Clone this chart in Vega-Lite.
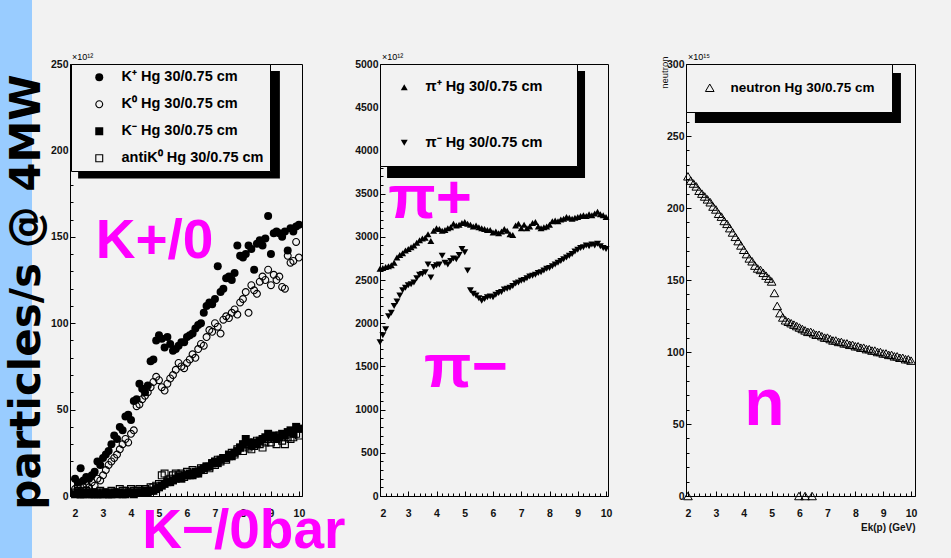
{
"$schema": "https://vega.github.io/schema/vega-lite/v6.json",
"background": "#f2f2f2",
"padding": {"left": 0, "top": 0, "right": 36, "bottom": 0},
"spacing": 0,
"resolve": {"scale": {"shape": "independent"}, "legend": {"shape": "independent"}},
"config": {
  "view": {"stroke": "black", "strokeWidth": 1},
  "axis": {"labelFont": "Liberation Sans", "labelFontWeight": "bold", "labelFontSize": 10.5, "labelColor": "#111111", "domainColor": "black", "domainWidth": 1, "tickColor": "black", "tickWidth": 1, "grid": false, "titleFont": "Liberation Sans", "titleFontWeight": "bold", "titleFontSize": 10, "titleColor": "#111111"}
},
"datasets": {
  "kaons": [
{"x":2.0,"y":10,"s":"Kp"},{"x":2.1,"y":8,"s":"Kp"},{"x":2.2,"y":16,"s":"Kp"},{"x":2.3,"y":9,"s":"Kp"},{"x":2.4,"y":11,"s":"Kp"},{"x":2.5,"y":10,"s":"Kp"},{"x":2.6,"y":12,"s":"Kp"},{"x":2.7,"y":14,"s":"Kp"},{"x":2.8,"y":20,"s":"Kp"},{"x":2.9,"y":18,"s":"Kp"},
{"x":3.0,"y":22,"s":"Kp"},{"x":3.1,"y":24,"s":"Kp"},{"x":3.2,"y":26,"s":"Kp"},{"x":3.3,"y":30,"s":"Kp"},{"x":3.4,"y":35,"s":"Kp"},{"x":3.5,"y":33,"s":"Kp"},{"x":3.6,"y":40,"s":"Kp"},{"x":3.7,"y":38,"s":"Kp"},{"x":3.8,"y":46,"s":"Kp"},{"x":3.9,"y":47,"s":"Kp"},
{"x":4.0,"y":44,"s":"Kp"},{"x":4.1,"y":55,"s":"Kp"},{"x":4.2,"y":56,"s":"Kp"},{"x":4.3,"y":65,"s":"Kp"},{"x":4.4,"y":62,"s":"Kp"},{"x":4.5,"y":60,"s":"Kp"},{"x":4.6,"y":64,"s":"Kp"},{"x":4.7,"y":78,"s":"Kp"},{"x":4.8,"y":79,"s":"Kp"},{"x":4.9,"y":90,"s":"Kp"},
{"x":5.0,"y":93,"s":"Kp"},{"x":5.1,"y":91,"s":"Kp"},{"x":5.2,"y":86,"s":"Kp"},{"x":5.3,"y":92,"s":"Kp"},{"x":5.4,"y":88,"s":"Kp"},{"x":5.5,"y":84,"s":"Kp"},{"x":5.6,"y":85,"s":"Kp"},{"x":5.7,"y":87,"s":"Kp"},{"x":5.8,"y":89,"s":"Kp"},{"x":5.9,"y":89,"s":"Kp"},
{"x":6.0,"y":92,"s":"Kp"},{"x":6.1,"y":93,"s":"Kp"},{"x":6.2,"y":94,"s":"Kp"},{"x":6.3,"y":97,"s":"Kp"},{"x":6.4,"y":99,"s":"Kp"},{"x":6.5,"y":100,"s":"Kp"},{"x":6.6,"y":106,"s":"Kp"},{"x":6.7,"y":110,"s":"Kp"},{"x":6.8,"y":112,"s":"Kp"},{"x":6.9,"y":111,"s":"Kp"},
{"x":7.0,"y":114,"s":"Kp"},{"x":7.1,"y":133,"s":"Kp"},{"x":7.2,"y":118,"s":"Kp"},{"x":7.3,"y":120,"s":"Kp"},{"x":7.4,"y":126,"s":"Kp"},{"x":7.5,"y":127,"s":"Kp"},{"x":7.6,"y":125,"s":"Kp"},{"x":7.7,"y":129,"s":"Kp"},{"x":7.8,"y":145,"s":"Kp"},{"x":7.9,"y":139,"s":"Kp"},
{"x":8.0,"y":138,"s":"Kp"},{"x":8.1,"y":140,"s":"Kp"},{"x":8.2,"y":145,"s":"Kp"},{"x":8.3,"y":143,"s":"Kp"},{"x":8.4,"y":131,"s":"Kp"},{"x":8.5,"y":146,"s":"Kp"},{"x":8.6,"y":148,"s":"Kp"},{"x":8.7,"y":145,"s":"Kp"},{"x":8.8,"y":149,"s":"Kp"},{"x":8.9,"y":162,"s":"Kp"},
{"x":9.0,"y":140,"s":"Kp"},{"x":9.1,"y":152,"s":"Kp"},{"x":9.2,"y":153,"s":"Kp"},{"x":9.3,"y":152,"s":"Kp"},{"x":9.4,"y":150,"s":"Kp"},{"x":9.5,"y":153,"s":"Kp"},{"x":9.6,"y":142,"s":"Kp"},{"x":9.7,"y":155,"s":"Kp"},{"x":9.8,"y":153,"s":"Kp"},{"x":9.9,"y":156,"s":"Kp"},{"x":10.0,"y":157,"s":"Kp"},
{"x":2.0,"y":4,"s":"K0"},{"x":2.1,"y":6,"s":"K0"},{"x":2.2,"y":3,"s":"K0"},{"x":2.3,"y":5,"s":"K0"},{"x":2.4,"y":7,"s":"K0"},{"x":2.5,"y":5,"s":"K0"},{"x":2.6,"y":8,"s":"K0"},{"x":2.7,"y":6,"s":"K0"},{"x":2.8,"y":10,"s":"K0"},{"x":2.9,"y":9,"s":"K0"},
{"x":3.0,"y":12,"s":"K0"},{"x":3.1,"y":15,"s":"K0"},{"x":3.2,"y":18,"s":"K0"},{"x":3.3,"y":20,"s":"K0"},{"x":3.4,"y":22,"s":"K0"},{"x":3.5,"y":24,"s":"K0"},{"x":3.6,"y":27,"s":"K0"},{"x":3.7,"y":30,"s":"K0"},{"x":3.8,"y":33,"s":"K0"},{"x":3.9,"y":31,"s":"K0"},
{"x":4.0,"y":36,"s":"K0"},{"x":4.1,"y":38,"s":"K0"},{"x":4.2,"y":52,"s":"K0"},{"x":4.3,"y":53,"s":"K0"},{"x":4.4,"y":56,"s":"K0"},{"x":4.5,"y":58,"s":"K0"},{"x":4.6,"y":60,"s":"K0"},{"x":4.7,"y":63,"s":"K0"},{"x":4.8,"y":66,"s":"K0"},{"x":4.9,"y":69,"s":"K0"},
{"x":5.0,"y":67,"s":"K0"},{"x":5.1,"y":63,"s":"K0"},{"x":5.2,"y":61,"s":"K0"},{"x":5.3,"y":65,"s":"K0"},{"x":5.4,"y":68,"s":"K0"},{"x":5.5,"y":70,"s":"K0"},{"x":5.6,"y":73,"s":"K0"},{"x":5.7,"y":77,"s":"K0"},{"x":5.8,"y":75,"s":"K0"},{"x":5.9,"y":74,"s":"K0"},
{"x":6.0,"y":77,"s":"K0"},{"x":6.1,"y":79,"s":"K0"},{"x":6.2,"y":82,"s":"K0"},{"x":6.3,"y":80,"s":"K0"},{"x":6.4,"y":85,"s":"K0"},{"x":6.5,"y":88,"s":"K0"},{"x":6.6,"y":87,"s":"K0"},{"x":6.7,"y":92,"s":"K0"},{"x":6.8,"y":96,"s":"K0"},{"x":6.9,"y":95,"s":"K0"},
{"x":7.0,"y":100,"s":"K0"},{"x":7.1,"y":98,"s":"K0"},{"x":7.2,"y":94,"s":"K0"},{"x":7.3,"y":102,"s":"K0"},{"x":7.4,"y":104,"s":"K0"},{"x":7.5,"y":103,"s":"K0"},{"x":7.6,"y":106,"s":"K0"},{"x":7.7,"y":108,"s":"K0"},{"x":7.8,"y":105,"s":"K0"},{"x":7.9,"y":112,"s":"K0"},
{"x":8.0,"y":114,"s":"K0"},{"x":8.1,"y":118,"s":"K0"},{"x":8.2,"y":106,"s":"K0"},{"x":8.3,"y":122,"s":"K0"},{"x":8.4,"y":119,"s":"K0"},{"x":8.5,"y":117,"s":"K0"},{"x":8.6,"y":124,"s":"K0"},{"x":8.7,"y":127,"s":"K0"},{"x":8.8,"y":125,"s":"K0"},{"x":8.9,"y":131,"s":"K0"},
{"x":9.0,"y":122,"s":"K0"},{"x":9.1,"y":128,"s":"K0"},{"x":9.2,"y":125,"s":"K0"},{"x":9.3,"y":127,"s":"K0"},{"x":9.4,"y":121,"s":"K0"},{"x":9.5,"y":120,"s":"K0"},{"x":9.6,"y":139,"s":"K0"},{"x":9.7,"y":135,"s":"K0"},{"x":9.8,"y":136,"s":"K0"},{"x":9.9,"y":147,"s":"K0"},{"x":10.0,"y":138,"s":"K0"},
{"x":2.0,"y":1,"s":"Km"},{"x":2.1,"y":2,"s":"Km"},{"x":2.2,"y":1,"s":"Km"},{"x":2.3,"y":1,"s":"Km"},{"x":2.4,"y":2,"s":"Km"},{"x":2.5,"y":1,"s":"Km"},{"x":2.6,"y":1,"s":"Km"},{"x":2.7,"y":2,"s":"Km"},{"x":2.8,"y":1,"s":"Km"},{"x":2.9,"y":1,"s":"Km"},
{"x":3.0,"y":1,"s":"Km"},{"x":3.1,"y":2,"s":"Km"},{"x":3.2,"y":1,"s":"Km"},{"x":3.3,"y":1,"s":"Km"},{"x":3.4,"y":2,"s":"Km"},{"x":3.5,"y":1,"s":"Km"},{"x":3.6,"y":2,"s":"Km"},{"x":3.7,"y":1,"s":"Km"},{"x":3.8,"y":1,"s":"Km"},{"x":3.9,"y":2,"s":"Km"},
{"x":4.0,"y":2,"s":"Km"},{"x":4.1,"y":1,"s":"Km"},{"x":4.2,"y":2,"s":"Km"},{"x":4.3,"y":2,"s":"Km"},{"x":4.4,"y":2,"s":"Km"},{"x":4.5,"y":3,"s":"Km"},{"x":4.6,"y":2,"s":"Km"},{"x":4.7,"y":3,"s":"Km"},{"x":4.8,"y":3,"s":"Km"},{"x":4.9,"y":4,"s":"Km"},
{"x":5.0,"y":5,"s":"Km"},{"x":5.1,"y":6,"s":"Km"},{"x":5.2,"y":7,"s":"Km"},{"x":5.3,"y":8,"s":"Km"},{"x":5.4,"y":8,"s":"Km"},{"x":5.5,"y":9,"s":"Km"},{"x":5.6,"y":10,"s":"Km"},{"x":5.7,"y":11,"s":"Km"},{"x":5.8,"y":10,"s":"Km"},{"x":5.9,"y":12,"s":"Km"},
{"x":6.0,"y":12,"s":"Km"},{"x":6.1,"y":13,"s":"Km"},{"x":6.2,"y":12,"s":"Km"},{"x":6.3,"y":14,"s":"Km"},{"x":6.4,"y":13,"s":"Km"},{"x":6.5,"y":15,"s":"Km"},{"x":6.6,"y":16,"s":"Km"},{"x":6.7,"y":17,"s":"Km"},{"x":6.8,"y":17,"s":"Km"},{"x":6.9,"y":19,"s":"Km"},
{"x":7.0,"y":20,"s":"Km"},{"x":7.1,"y":19,"s":"Km"},{"x":7.2,"y":21,"s":"Km"},{"x":7.3,"y":22,"s":"Km"},{"x":7.4,"y":22,"s":"Km"},{"x":7.5,"y":24,"s":"Km"},{"x":7.6,"y":23,"s":"Km"},{"x":7.7,"y":25,"s":"Km"},{"x":7.8,"y":26,"s":"Km"},{"x":7.9,"y":28,"s":"Km"},
{"x":8.0,"y":30,"s":"Km"},{"x":8.1,"y":33,"s":"Km"},{"x":8.2,"y":31,"s":"Km"},{"x":8.3,"y":29,"s":"Km"},{"x":8.4,"y":31,"s":"Km"},{"x":8.5,"y":30,"s":"Km"},{"x":8.6,"y":32,"s":"Km"},{"x":8.7,"y":33,"s":"Km"},{"x":8.8,"y":34,"s":"Km"},{"x":8.9,"y":36,"s":"Km"},
{"x":9.0,"y":34,"s":"Km"},{"x":9.1,"y":35,"s":"Km"},{"x":9.2,"y":33,"s":"Km"},{"x":9.3,"y":34,"s":"Km"},{"x":9.4,"y":36,"s":"Km"},{"x":9.5,"y":35,"s":"Km"},{"x":9.6,"y":37,"s":"Km"},{"x":9.7,"y":38,"s":"Km"},{"x":9.8,"y":36,"s":"Km"},{"x":9.9,"y":40,"s":"Km"},{"x":10.0,"y":39,"s":"Km"},
{"x":2.0,"y":2,"s":"aK0"},{"x":2.1,"y":3,"s":"aK0"},{"x":2.2,"y":1,"s":"aK0"},{"x":2.3,"y":2,"s":"aK0"},{"x":2.4,"y":3,"s":"aK0"},{"x":2.5,"y":2,"s":"aK0"},{"x":2.6,"y":2,"s":"aK0"},{"x":2.7,"y":1,"s":"aK0"},{"x":2.8,"y":2,"s":"aK0"},{"x":2.9,"y":3,"s":"aK0"},
{"x":3.0,"y":2,"s":"aK0"},{"x":3.1,"y":2,"s":"aK0"},{"x":3.2,"y":1,"s":"aK0"},{"x":3.3,"y":3,"s":"aK0"},{"x":3.4,"y":2,"s":"aK0"},{"x":3.5,"y":2,"s":"aK0"},{"x":3.6,"y":4,"s":"aK0"},{"x":3.7,"y":3,"s":"aK0"},{"x":3.8,"y":3,"s":"aK0"},{"x":3.9,"y":2,"s":"aK0"},
{"x":4.0,"y":4,"s":"aK0"},{"x":4.1,"y":3,"s":"aK0"},{"x":4.2,"y":3,"s":"aK0"},{"x":4.3,"y":4,"s":"aK0"},{"x":4.4,"y":3,"s":"aK0"},{"x":4.5,"y":4,"s":"aK0"},{"x":4.6,"y":3,"s":"aK0"},{"x":4.7,"y":5,"s":"aK0"},{"x":4.8,"y":5,"s":"aK0"},{"x":4.9,"y":6,"s":"aK0"},
{"x":5.0,"y":7,"s":"aK0"},{"x":5.1,"y":12,"s":"aK0"},{"x":5.2,"y":13,"s":"aK0"},{"x":5.3,"y":9,"s":"aK0"},{"x":5.4,"y":10,"s":"aK0"},{"x":5.5,"y":12,"s":"aK0"},{"x":5.6,"y":13,"s":"aK0"},{"x":5.7,"y":12,"s":"aK0"},{"x":5.8,"y":13,"s":"aK0"},{"x":5.9,"y":11,"s":"aK0"},
{"x":6.0,"y":14,"s":"aK0"},{"x":6.1,"y":12,"s":"aK0"},{"x":6.2,"y":15,"s":"aK0"},{"x":6.3,"y":13,"s":"aK0"},{"x":6.4,"y":14,"s":"aK0"},{"x":6.5,"y":16,"s":"aK0"},{"x":6.6,"y":15,"s":"aK0"},{"x":6.7,"y":17,"s":"aK0"},{"x":6.8,"y":16,"s":"aK0"},{"x":6.9,"y":19,"s":"aK0"},
{"x":7.0,"y":18,"s":"aK0"},{"x":7.1,"y":21,"s":"aK0"},{"x":7.2,"y":20,"s":"aK0"},{"x":7.3,"y":22,"s":"aK0"},{"x":7.4,"y":21,"s":"aK0"},{"x":7.5,"y":23,"s":"aK0"},{"x":7.6,"y":25,"s":"aK0"},{"x":7.7,"y":24,"s":"aK0"},{"x":7.8,"y":27,"s":"aK0"},{"x":7.9,"y":28,"s":"aK0"},
{"x":8.0,"y":26,"s":"aK0"},{"x":8.1,"y":30,"s":"aK0"},{"x":8.2,"y":28,"s":"aK0"},{"x":8.3,"y":27,"s":"aK0"},{"x":8.4,"y":29,"s":"aK0"},{"x":8.5,"y":32,"s":"aK0"},{"x":8.6,"y":30,"s":"aK0"},{"x":8.7,"y":28,"s":"aK0"},{"x":8.8,"y":31,"s":"aK0"},{"x":8.9,"y":33,"s":"aK0"},
{"x":9.0,"y":31,"s":"aK0"},{"x":9.1,"y":33,"s":"aK0"},{"x":9.2,"y":30,"s":"aK0"},{"x":9.3,"y":35,"s":"aK0"},{"x":9.4,"y":32,"s":"aK0"},{"x":9.5,"y":30,"s":"aK0"},{"x":9.6,"y":34,"s":"aK0"},{"x":9.7,"y":33,"s":"aK0"},{"x":9.8,"y":34,"s":"aK0"},{"x":9.9,"y":36,"s":"aK0"},{"x":10.0,"y":35,"s":"aK0"}
  ],
  "pions": [
{"x":2.0,"y":2630,"s":"pp"},{"x":2.1,"y":2640,"s":"pp"},{"x":2.2,"y":2650,"s":"pp"},{"x":2.3,"y":2660,"s":"pp"},{"x":2.4,"y":2670,"s":"pp"},{"x":2.5,"y":2700,"s":"pp"},{"x":2.6,"y":2760,"s":"pp"},{"x":2.7,"y":2790,"s":"pp"},{"x":2.8,"y":2810,"s":"pp"},{"x":2.9,"y":2840,"s":"pp"},
{"x":3.0,"y":2860,"s":"pp"},{"x":3.1,"y":2880,"s":"pp"},{"x":3.2,"y":2900,"s":"pp"},{"x":3.3,"y":2930,"s":"pp"},{"x":3.4,"y":2960,"s":"pp"},{"x":3.5,"y":2980,"s":"pp"},{"x":3.6,"y":2990,"s":"pp"},{"x":3.7,"y":3030,"s":"pp"},{"x":3.8,"y":2950,"s":"pp"},{"x":3.9,"y":3070,"s":"pp"},
{"x":4.0,"y":3100,"s":"pp"},{"x":4.1,"y":3090,"s":"pp"},{"x":4.2,"y":3070,"s":"pp"},{"x":4.3,"y":3080,"s":"pp"},{"x":4.4,"y":3100,"s":"pp"},{"x":4.5,"y":3110,"s":"pp"},{"x":4.6,"y":3150,"s":"pp"},{"x":4.7,"y":3130,"s":"pp"},{"x":4.8,"y":3140,"s":"pp"},{"x":4.9,"y":3160,"s":"pp"},
{"x":5.0,"y":3170,"s":"pp"},{"x":5.1,"y":3150,"s":"pp"},{"x":5.2,"y":3140,"s":"pp"},{"x":5.3,"y":3120,"s":"pp"},{"x":5.4,"y":3130,"s":"pp"},{"x":5.5,"y":3110,"s":"pp"},{"x":5.6,"y":3100,"s":"pp"},{"x":5.7,"y":3090,"s":"pp"},{"x":5.8,"y":3080,"s":"pp"},{"x":5.9,"y":3080,"s":"pp"},
{"x":6.0,"y":3050,"s":"pp"},{"x":6.1,"y":3060,"s":"pp"},{"x":6.2,"y":3040,"s":"pp"},{"x":6.3,"y":3060,"s":"pp"},{"x":6.4,"y":3090,"s":"pp"},{"x":6.5,"y":3070,"s":"pp"},{"x":6.6,"y":3030,"s":"pp"},{"x":6.7,"y":3020,"s":"pp"},{"x":6.8,"y":3130,"s":"pp"},{"x":6.9,"y":3150,"s":"pp"},
{"x":7.0,"y":3100,"s":"pp"},{"x":7.1,"y":3140,"s":"pp"},{"x":7.2,"y":3100,"s":"pp"},{"x":7.3,"y":3120,"s":"pp"},{"x":7.4,"y":3160,"s":"pp"},{"x":7.5,"y":3170,"s":"pp"},{"x":7.6,"y":3120,"s":"pp"},{"x":7.7,"y":3100,"s":"pp"},{"x":7.8,"y":3110,"s":"pp"},{"x":7.9,"y":3120,"s":"pp"},
{"x":8.0,"y":3140,"s":"pp"},{"x":8.1,"y":3180,"s":"pp"},{"x":8.2,"y":3190,"s":"pp"},{"x":8.3,"y":3180,"s":"pp"},{"x":8.4,"y":3200,"s":"pp"},{"x":8.5,"y":3210,"s":"pp"},{"x":8.6,"y":3230,"s":"pp"},{"x":8.7,"y":3220,"s":"pp"},{"x":8.8,"y":3210,"s":"pp"},{"x":8.9,"y":3220,"s":"pp"},
{"x":9.0,"y":3230,"s":"pp"},{"x":9.1,"y":3240,"s":"pp"},{"x":9.2,"y":3250,"s":"pp"},{"x":9.3,"y":3240,"s":"pp"},{"x":9.4,"y":3260,"s":"pp"},{"x":9.5,"y":3250,"s":"pp"},{"x":9.6,"y":3270,"s":"pp"},{"x":9.7,"y":3290,"s":"pp"},{"x":9.8,"y":3260,"s":"pp"},{"x":9.9,"y":3250,"s":"pp"},{"x":10.0,"y":3230,"s":"pp"},
{"x":2.0,"y":1780,"s":"pm"},{"x":2.1,"y":1860,"s":"pm"},{"x":2.2,"y":1930,"s":"pm"},{"x":2.3,"y":2080,"s":"pm"},{"x":2.4,"y":2120,"s":"pm"},{"x":2.5,"y":2200,"s":"pm"},{"x":2.6,"y":2250,"s":"pm"},{"x":2.7,"y":2320,"s":"pm"},{"x":2.8,"y":2380,"s":"pm"},{"x":2.9,"y":2410,"s":"pm"},
{"x":3.0,"y":2440,"s":"pm"},{"x":3.1,"y":2450,"s":"pm"},{"x":3.2,"y":2470,"s":"pm"},{"x":3.3,"y":2520,"s":"pm"},{"x":3.4,"y":2560,"s":"pm"},{"x":3.5,"y":2570,"s":"pm"},{"x":3.6,"y":2590,"s":"pm"},{"x":3.7,"y":2680,"s":"pm"},{"x":3.8,"y":2530,"s":"pm"},{"x":3.9,"y":2650,"s":"pm"},
{"x":4.0,"y":2670,"s":"pm"},{"x":4.1,"y":2680,"s":"pm"},{"x":4.2,"y":2780,"s":"pm"},{"x":4.3,"y":2700,"s":"pm"},{"x":4.4,"y":2680,"s":"pm"},{"x":4.5,"y":2720,"s":"pm"},{"x":4.6,"y":2750,"s":"pm"},{"x":4.7,"y":2740,"s":"pm"},{"x":4.8,"y":2790,"s":"pm"},{"x":4.9,"y":2860,"s":"pm"},
{"x":5.0,"y":2820,"s":"pm"},{"x":5.1,"y":2610,"s":"pm"},{"x":5.2,"y":2380,"s":"pm"},{"x":5.3,"y":2340,"s":"pm"},{"x":5.4,"y":2320,"s":"pm"},{"x":5.5,"y":2290,"s":"pm"},{"x":5.6,"y":2260,"s":"pm"},{"x":5.7,"y":2280,"s":"pm"},{"x":5.8,"y":2300,"s":"pm"},{"x":5.9,"y":2310,"s":"pm"},
{"x":6.0,"y":2300,"s":"pm"},{"x":6.1,"y":2330,"s":"pm"},{"x":6.2,"y":2350,"s":"pm"},{"x":6.3,"y":2360,"s":"pm"},{"x":6.4,"y":2390,"s":"pm"},{"x":6.5,"y":2400,"s":"pm"},{"x":6.6,"y":2410,"s":"pm"},{"x":6.7,"y":2430,"s":"pm"},{"x":6.8,"y":2460,"s":"pm"},{"x":6.9,"y":2470,"s":"pm"},
{"x":7.0,"y":2490,"s":"pm"},{"x":7.1,"y":2500,"s":"pm"},{"x":7.2,"y":2520,"s":"pm"},{"x":7.3,"y":2540,"s":"pm"},{"x":7.4,"y":2550,"s":"pm"},{"x":7.5,"y":2560,"s":"pm"},{"x":7.6,"y":2580,"s":"pm"},{"x":7.7,"y":2590,"s":"pm"},{"x":7.8,"y":2610,"s":"pm"},{"x":7.9,"y":2630,"s":"pm"},
{"x":8.0,"y":2640,"s":"pm"},{"x":8.1,"y":2660,"s":"pm"},{"x":8.2,"y":2680,"s":"pm"},{"x":8.3,"y":2700,"s":"pm"},{"x":8.4,"y":2720,"s":"pm"},{"x":8.5,"y":2740,"s":"pm"},{"x":8.6,"y":2760,"s":"pm"},{"x":8.7,"y":2780,"s":"pm"},{"x":8.8,"y":2800,"s":"pm"},{"x":8.9,"y":2830,"s":"pm"},
{"x":9.0,"y":2850,"s":"pm"},{"x":9.1,"y":2870,"s":"pm"},{"x":9.2,"y":2880,"s":"pm"},{"x":9.3,"y":2900,"s":"pm"},{"x":9.4,"y":2890,"s":"pm"},{"x":9.5,"y":2910,"s":"pm"},{"x":9.6,"y":2900,"s":"pm"},{"x":9.7,"y":2920,"s":"pm"},{"x":9.8,"y":2890,"s":"pm"},{"x":9.9,"y":2870,"s":"pm"},{"x":10.0,"y":2860,"s":"pm"}
  ],
  "neutrons": [
{"x":2.0,"y":0,"s":"n"},{"x":5.98,"y":0,"s":"n"},{"x":6.2,"y":0,"s":"n"},{"x":6.45,"y":0,"s":"n"},
{"x":2.0,"y":222,"s":"n"},{"x":2.1,"y":219,"s":"n"},{"x":2.2,"y":217,"s":"n"},{"x":2.3,"y":215,"s":"n"},{"x":2.4,"y":212,"s":"n"},{"x":2.5,"y":210,"s":"n"},{"x":2.6,"y":208,"s":"n"},{"x":2.7,"y":206,"s":"n"},{"x":2.8,"y":204,"s":"n"},{"x":2.9,"y":201,"s":"n"},
{"x":3.0,"y":199,"s":"n"},{"x":3.1,"y":196,"s":"n"},{"x":3.2,"y":194,"s":"n"},{"x":3.3,"y":191,"s":"n"},{"x":3.4,"y":189,"s":"n"},{"x":3.5,"y":186,"s":"n"},{"x":3.6,"y":183,"s":"n"},{"x":3.7,"y":180,"s":"n"},{"x":3.8,"y":177,"s":"n"},{"x":3.9,"y":174,"s":"n"},
{"x":4.0,"y":171,"s":"n"},{"x":4.1,"y":168,"s":"n"},{"x":4.2,"y":165,"s":"n"},{"x":4.3,"y":163,"s":"n"},{"x":4.4,"y":160,"s":"n"},{"x":4.5,"y":158,"s":"n"},{"x":4.6,"y":157,"s":"n"},{"x":4.7,"y":155,"s":"n"},{"x":4.8,"y":153,"s":"n"},{"x":4.9,"y":151,"s":"n"},
{"x":5.0,"y":149,"s":"n"},{"x":5.1,"y":141,"s":"n"},{"x":5.2,"y":132,"s":"n"},{"x":5.3,"y":127,"s":"n"},{"x":5.4,"y":124,"s":"n"},{"x":5.5,"y":122,"s":"n"},{"x":5.6,"y":121,"s":"n"},{"x":5.7,"y":120,"s":"n"},{"x":5.8,"y":119,"s":"n"},{"x":5.9,"y":118,"s":"n"},
{"x":6.0,"y":117,"s":"n"},{"x":6.1,"y":116,"s":"n"},{"x":6.2,"y":115,"s":"n"},{"x":6.3,"y":114,"s":"n"},{"x":6.4,"y":114,"s":"n"},{"x":6.5,"y":113,"s":"n"},{"x":6.6,"y":112,"s":"n"},{"x":6.7,"y":112,"s":"n"},{"x":6.8,"y":111,"s":"n"},{"x":6.9,"y":110,"s":"n"},
{"x":7.0,"y":110,"s":"n"},{"x":7.1,"y":109,"s":"n"},{"x":7.2,"y":108,"s":"n"},{"x":7.3,"y":108,"s":"n"},{"x":7.4,"y":107,"s":"n"},{"x":7.5,"y":107,"s":"n"},{"x":7.6,"y":106,"s":"n"},{"x":7.7,"y":106,"s":"n"},{"x":7.8,"y":105,"s":"n"},{"x":7.9,"y":105,"s":"n"},
{"x":8.0,"y":104,"s":"n"},{"x":8.1,"y":104,"s":"n"},{"x":8.2,"y":103,"s":"n"},{"x":8.3,"y":103,"s":"n"},{"x":8.4,"y":102,"s":"n"},{"x":8.5,"y":102,"s":"n"},{"x":8.6,"y":101,"s":"n"},{"x":8.7,"y":101,"s":"n"},{"x":8.8,"y":100,"s":"n"},{"x":8.9,"y":100,"s":"n"},
{"x":9.0,"y":99,"s":"n"},{"x":9.1,"y":99,"s":"n"},{"x":9.2,"y":98,"s":"n"},{"x":9.3,"y":98,"s":"n"},{"x":9.4,"y":97,"s":"n"},{"x":9.5,"y":97,"s":"n"},{"x":9.6,"y":96,"s":"n"},{"x":9.7,"y":96,"s":"n"},{"x":9.8,"y":95,"s":"n"},{"x":9.9,"y":95,"s":"n"},{"x":10.0,"y":94,"s":"n"}
  ]
},
"hconcat": [
  {
    "width": 32, "height": 558,
    "view": {"fill": "#99ccff", "stroke": null},
    "data": {"values": [{"t": "particles/s @ 4MW"}]},
    "mark": {"type": "text", "angle": 270, "font": "DejaVu Sans", "fontWeight": "bold", "fontSize": 42, "color": "black", "align": "center", "baseline": "alphabetic", "dx": -13, "dy": 24},
    "encoding": {"text": {"field": "t", "type": "nominal"}}
  },
  {
    "spacing": 0,
    "bounds": "flush",
    "resolve": {"scale": {"shape": "independent"}, "legend": {"shape": "independent"}},
    "vconcat": [
      {
        "width": 10, "height": 64,
        "view": {"fill": null, "stroke": null},
        "data": {"values": [{}]},
        "mark": {"type": "text"},
        "encoding": {"text": {"value": ""}}
      },
      {
        "spacing": 78,
        "bounds": "flush",
        "resolve": {"scale": {"shape": "independent"}, "legend": {"shape": "independent"}},
        "hconcat": [
          {
            "width": 232, "height": 432,
            "resolve": {"axis": {"x": "independent", "y": "independent"}},
            "layer": [
              {
                "data": {"values": [{}]},
                "mark": {"type": "rect", "color": "black"},
                "encoding": {
                  "x": {"datum": 2.11, "type": "quantitative", "axis": {"orient": "bottom", "values": [2.2,2.4,2.6,2.8,3.2,3.4,3.6,3.8,4.2,4.4,4.6,4.8,5.2,5.4,5.6,5.8,6.2,6.4,6.6,6.8,7.2,7.4,7.6,7.8,8.2,8.4,8.6,8.8,9.2,9.4,9.6,9.8], "labels": false, "domain": false, "tickSize": -3, "title": null}},
                  "x2": {"datum": 9.32},
                  "y": {"datum": 245.9, "type": "quantitative", "axis": {"orient": "left", "values": [10,20,30,40,60,70,80,90,110,120,130,140,160,170,180,190,210,220,230,240], "labels": false, "domain": false, "tickSize": -3, "title": null}},
                  "y2": {"datum": 183.8}
                }
              },
              {
                "data": {"name": "kaons"},
                "mark": {"type": "point", "size": 64, "filled": true, "color": "black", "opacity": 1},
                "encoding": {
                  "x": {"field": "x", "type": "quantitative", "scale": {"domain": [1.82, 10.11], "nice": false, "zero": false}, "axis": {"orient": "bottom", "values": [2,3,4,5,6,7,8,9,10], "format": "d", "title": null, "tickSize": -5, "labelPadding": 17}},
                  "y": {"field": "y", "type": "quantitative", "scale": {"domain": [0, 250], "nice": false}, "axis": {"orient": "left", "values": [0,50,100,150,200,250], "format": "d", "title": null, "tickSize": -5, "labelPadding": 7}},
                  "shape": {"field": "s", "type": "nominal", "scale": {"domain": ["Kp","K0","Km","aK0"], "range": ["circle", "M1,0A1,1,0,1,1,-1,0A1,1,0,1,1,1,0ZM0.72,0A0.72,0.72,0,1,0,-0.72,0A0.72,0.72,0,1,0,0.72,0Z", "square", "M-1,-1H1V1H-1ZM-0.72,-0.72V0.72H0.72V-0.72Z"]},
                    "legend": {"title": null, "orient": "none", "legendX": 1, "legendY": 0, "fillColor": "#f2f2f2", "strokeColor": "black", "padding": 6, "symbolOffset": 15, "labelOffset": 15, "rowPadding": 12, "symbolSize": 64, "symbolFillColor": "black", "symbolStrokeWidth": 0, "labelFont": "Liberation Sans", "labelFontWeight": "bold", "labelFontSize": 14.5, "labelColor": "black", "labelLimit": 400, "zindex": 1,
                      "labelExpr": "datum.label=='Kp'?'K⁺ Hg 30/0.75 cm':datum.label=='K0'?'K⁰ Hg 30/0.75 cm':datum.label=='Km'?'K⁻ Hg 30/0.75 cm':'antiK⁰ Hg 30/0.75 cm'"}}
                }
              },
              {
                "data": {"values": [{}]},
                "mark": {"type": "text", "font": "Liberation Sans", "fontSize": 9, "align": "left", "baseline": "alphabetic", "dx": 2, "dy": -4, "color": "black"},
                "encoding": {"x": {"datum": 1.82, "type": "quantitative", "axis": null}, "y": {"datum": 250, "type": "quantitative", "axis": null}, "text": {"value": "×10¹²"}}
              },
              {
                "data": {"values": [{}]},
                "mark": {"type": "text", "font": "Liberation Sans", "fontWeight": "bold", "fontSize": 55, "align": "center", "baseline": "alphabetic", "color": "#ff00ff"},
                "encoding": {"x": {"datum": 4.84, "type": "quantitative", "axis": null}, "y": {"datum": 137.7, "type": "quantitative", "axis": null}, "text": {"value": "K+/0"}}
              },
              {
                "data": {"values": [{}]},
                "mark": {"type": "text", "font": "Liberation Sans", "fontWeight": "bold", "fontSize": 55, "align": "center", "baseline": "alphabetic", "color": "#ff00ff"},
                "encoding": {"x": {"datum": 8.03, "type": "quantitative", "axis": null}, "y": {"datum": -30.1, "type": "quantitative", "axis": null}, "text": {"value": "K−/0bar"}}
              }
            ]
          },
          {
            "width": 228, "height": 432,
            "resolve": {"axis": {"x": "independent", "y": "independent"}},
            "layer": [
              {
                "data": {"values": [{}]},
                "mark": {"type": "rect", "color": "black"},
                "encoding": {
                  "x": {"datum": 2.25, "type": "quantitative", "axis": {"orient": "bottom", "values": [2.2,2.4,2.6,2.8,3.2,3.4,3.6,3.8,4.2,4.4,4.6,4.8,5.2,5.4,5.6,5.8,6.2,6.4,6.6,6.8,7.2,7.4,7.6,7.8,8.2,8.4,8.6,8.8,9.2,9.4,9.6,9.8], "labels": false, "domain": false, "tickSize": -3, "title": null}},
                  "x2": {"datum": 9.257},
                  "y": {"datum": 4919, "type": "quantitative", "axis": {"orient": "left", "values": [100,200,300,400,600,700,800,900,1100,1200,1300,1400,1600,1700,1800,1900,2100,2200,2300,2400,2600,2700,2800,2900,3100,3200,3300,3400,3600,3700,3800,3900,4100,4200,4300,4400,4600,4700,4800,4900], "labels": false, "domain": false, "tickSize": -3, "title": null}},
                  "y2": {"datum": 3681}
                }
              },
              {
                "data": {"name": "pions"},
                "mark": {"type": "point", "size": 48, "filled": true, "color": "black", "opacity": 1},
                "encoding": {
                  "x": {"field": "x", "type": "quantitative", "scale": {"domain": [2.0, 10.07], "nice": false, "zero": false}, "axis": {"orient": "bottom", "values": [2,3,4,5,6,7,8,9,10], "format": "d", "title": null, "tickSize": -5, "labelPadding": 17}},
                  "y": {"field": "y", "type": "quantitative", "scale": {"domain": [0, 5000], "nice": false}, "axis": {"orient": "left", "values": [0,500,1000,1500,2000,2500,3000,3500,4000,4500,5000], "format": "d", "title": null, "tickSize": -5, "labelPadding": 7}},
                  "shape": {"field": "s", "type": "nominal", "scale": {"domain": ["pp","pm"], "range": ["triangle-up","triangle-down"]},
                    "legend": {"title": ".", "titleOrient": "right", "titlePadding": 18, "titleFontSize": 2, "titleColor": "#f2f2f2", "orient": "none", "legendX": 0, "legendY": 0, "fillColor": "#f2f2f2", "strokeColor": "black", "padding": 16, "symbolOffset": 1, "labelOffset": 14, "rowPadding": 40.5, "symbolSize": 48, "symbolFillColor": "black", "symbolStrokeColor": "black", "symbolStrokeWidth": 1, "labelFont": "Liberation Sans", "labelFontWeight": "bold", "labelFontSize": 14.5, "labelColor": "black", "labelLimit": 400, "zindex": 1,
                      "labelExpr": "datum.label=='pp'?'π⁺ Hg 30/0.75 cm':'π⁻ Hg 30/0.75 cm'"}}
                }
              },
              {
                "data": {"values": [{}]},
                "mark": {"type": "text", "font": "Liberation Sans", "fontSize": 9, "align": "left", "baseline": "alphabetic", "dx": 2, "dy": -4, "color": "black"},
                "encoding": {"x": {"datum": 2.0, "type": "quantitative", "axis": null}, "y": {"datum": 5000, "type": "quantitative", "axis": null}, "text": {"value": "×10¹²"}}
              },
              {
                "data": {"values": [{}]},
                "mark": {"type": "text", "font": "Liberation Sans", "fontWeight": "bold", "fontSize": 62, "align": "center", "baseline": "alphabetic", "color": "#ff00ff"},
                "encoding": {"x": {"datum": 3.77, "type": "quantitative", "axis": null}, "y": {"datum": 3218, "type": "quantitative", "axis": null}, "text": {"value": "π+"}}
              },
              {
                "data": {"values": [{}]},
                "mark": {"type": "text", "font": "Liberation Sans", "fontWeight": "bold", "fontSize": 62, "align": "center", "baseline": "alphabetic", "color": "#ff00ff"},
                "encoding": {"x": {"datum": 5.04, "type": "quantitative", "axis": null}, "y": {"datum": 1262, "type": "quantitative", "axis": null}, "text": {"value": "π−"}}
              }
            ]
          },
          {
            "width": 229, "height": 432,
            "resolve": {"axis": {"x": "independent", "y": "independent"}},
            "layer": [
              {
                "data": {"values": [{}]},
                "mark": {"type": "rect", "color": "black"},
                "encoding": {
                  "x": {"datum": 2.25, "type": "quantitative", "axis": {"orient": "bottom", "values": [2.2,2.4,2.6,2.8,3.2,3.4,3.6,3.8,4.2,4.4,4.6,4.8,5.2,5.4,5.6,5.8,6.2,6.4,6.6,6.8,7.2,7.4,7.6,7.8,8.2,8.4,8.6,8.8,9.2,9.4,9.6,9.8], "labels": false, "domain": false, "tickSize": -3, "title": null}},
                  "x2": {"datum": 9.636},
                  "y": {"datum": 293.75, "type": "quantitative", "axis": {"orient": "left", "values": [10,20,30,40,60,70,80,90,110,120,130,140,160,170,180,190,210,220,230,240,260,270,280,290], "labels": false, "domain": false, "tickSize": -3, "title": null}},
                  "y2": {"datum": 258.98}
                }
              },
              {
                "data": {"name": "neutrons"},
                "mark": {"type": "point", "size": 75, "filled": false, "stroke": "black", "strokeWidth": 1, "opacity": 1},
                "encoding": {
                  "x": {"field": "x", "type": "quantitative", "scale": {"domain": [1.93, 10.14], "nice": false, "zero": false}, "axis": {"orient": "bottom", "values": [2,3,4,5,6,7,8,9,10], "format": "d", "title": "Ek(p) (GeV)", "titleAnchor": "end", "titlePadding": 4, "tickSize": -5, "labelPadding": 17}},
                  "y": {"field": "y", "type": "quantitative", "scale": {"domain": [0, 300], "nice": false}, "axis": {"orient": "left", "values": [0,50,100,150,200,250,300], "format": "d", "title": "neutron", "titleAngle": 270, "titleAnchor": "end", "titleAlign": "right", "titleBaseline": "middle", "titleX": -22, "titleY": -8, "titleFontWeight": "normal", "titleFontSize": 9.5, "tickSize": -5, "labelPadding": 7}},
                  "shape": {"field": "s", "type": "nominal", "scale": {"domain": ["n"], "range": ["triangle-up"]},
                    "legend": {"title": null, "orient": "none", "legendX": 0, "legendY": 0, "fillColor": "#f2f2f2", "strokeColor": "black", "padding": 17, "symbolOffset": 0, "labelOffset": 14, "symbolSize": 75, "symbolFillColor": "transparent", "symbolStrokeColor": "black", "symbolStrokeWidth": 1, "labelFont": "Liberation Sans", "labelFontWeight": "bold", "labelFontSize": 13.5, "labelColor": "black", "labelLimit": 400, "zindex": 1,
                      "labelExpr": "'neutron Hg 30/0.75 cm'"}}
                }
              },
              {
                "data": {"values": [{}]},
                "mark": {"type": "text", "font": "Liberation Sans", "fontSize": 9, "align": "left", "baseline": "alphabetic", "dx": 2, "dy": -4, "color": "black"},
                "encoding": {"x": {"datum": 1.93, "type": "quantitative", "axis": null}, "y": {"datum": 300, "type": "quantitative", "axis": null}, "text": {"value": "×10¹⁵"}}
              },
              {
                "data": {"values": [{}]},
                "mark": {"type": "text", "font": "Liberation Sans", "fontWeight": "bold", "fontSize": 66, "align": "center", "baseline": "alphabetic", "color": "#ff00ff"},
                "encoding": {"x": {"datum": 4.74, "type": "quantitative", "axis": null}, "y": {"datum": 49.3, "type": "quantitative", "axis": null}, "text": {"value": "n"}}
              }
            ]
          }
        ]
      }
    ]
  }
]
}
